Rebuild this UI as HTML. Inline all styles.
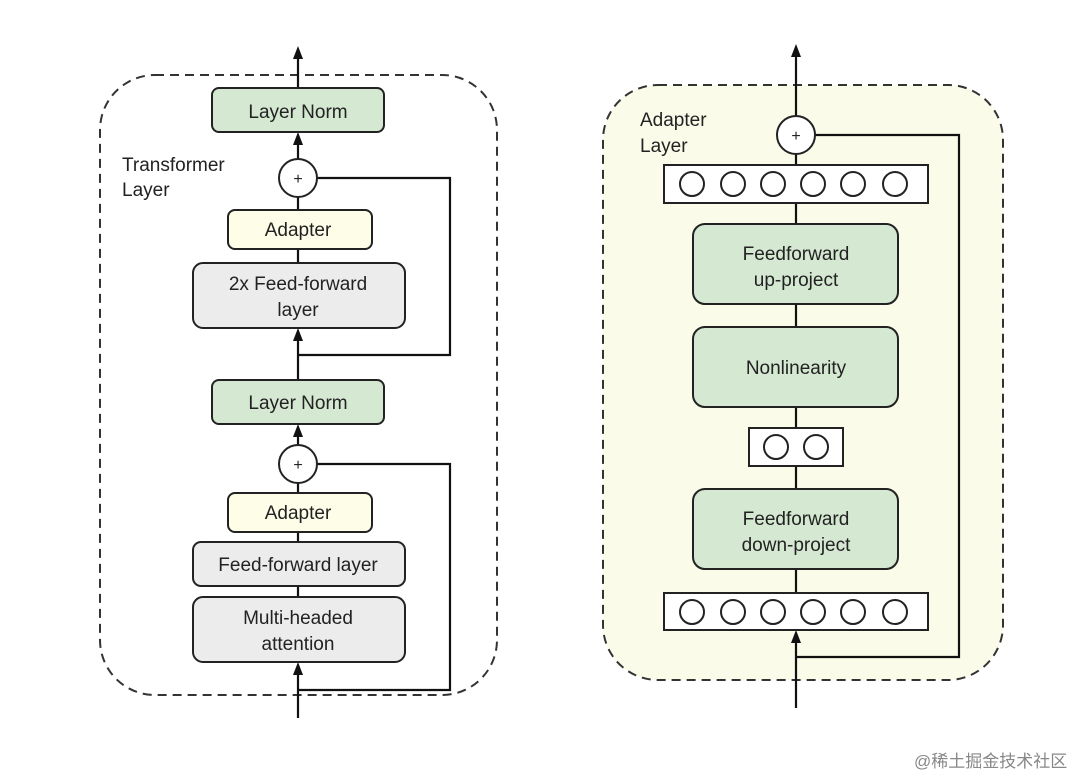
<!DOCTYPE html>
<html><head><meta charset="utf-8"><style>
html,body{margin:0;padding:0;background:#fff;}
svg{display:block;}
text{font-family:"Liberation Sans",sans-serif;fill:#222;}
</style></head><body>
<svg width="1080" height="776" viewBox="0 0 1080 776" xmlns="http://www.w3.org/2000/svg">
<!-- Left dashed -->
<rect x="100" y="75" width="397" height="620" rx="55" fill="none" stroke="#333" stroke-width="2" stroke-dasharray="9,6"/>
<text x="122" y="171" font-size="19">Transformer</text>
<text x="122" y="196" font-size="19">Layer</text>
<g stroke="#111" stroke-width="2.2" fill="none">
<line x1="298" y1="88" x2="298" y2="56"/>
<line x1="298" y1="159" x2="298" y2="140"/>
<line x1="298" y1="197" x2="298" y2="210"/>
<line x1="298" y1="249" x2="298" y2="263"/>
<line x1="298" y1="380" x2="298" y2="336"/>
<polyline points="317,178 450,178 450,355 298,355"/>
<line x1="298" y1="445" x2="298" y2="432"/>
<line x1="298" y1="483" x2="298" y2="493"/>
<line x1="298" y1="532" x2="298" y2="542"/>
<line x1="298" y1="586" x2="298" y2="597"/>
<line x1="298" y1="718" x2="298" y2="670"/>
<polyline points="317,464 450,464 450,690 298,690"/>
</g>
<g fill="#111">
<polygon points="298,46 293,59 303,59"/>
<polygon points="298,132 293,145 303,145"/>
<polygon points="298,328 293,341 303,341"/>
<polygon points="298,424 293,437 303,437"/>
<polygon points="298,662 293,675 303,675"/>
</g>
<g stroke="#222" stroke-width="2">
<rect x="212" y="88" width="172" height="44" rx="7" fill="#d5e8d2"/>
<circle cx="298" cy="178" r="19" fill="#fff"/>
<rect x="228" y="210" width="144" height="39" rx="7" fill="#fdfde8"/>
<rect x="193" y="263" width="212" height="65" rx="10" fill="#ececec"/>
<rect x="212" y="380" width="172" height="44" rx="7" fill="#d5e8d2"/>
<circle cx="298" cy="464" r="19" fill="#fff"/>
<rect x="228" y="493" width="144" height="39" rx="7" fill="#fdfde8"/>
<rect x="193" y="542" width="212" height="44" rx="8" fill="#ececec"/>
<rect x="193" y="597" width="212" height="65" rx="10" fill="#ececec"/>
</g>
<g font-size="19" text-anchor="middle">
<text x="298" y="118">Layer Norm</text>
<text x="298" y="184" font-size="16">+</text>
<text x="298" y="236">Adapter</text>
<text x="298" y="290">2x Feed-forward</text>
<text x="298" y="316">layer</text>
<text x="298" y="409">Layer Norm</text>
<text x="298" y="470" font-size="16">+</text>
<text x="298" y="519">Adapter</text>
<text x="298" y="571">Feed-forward layer</text>
<text x="298" y="624">Multi-headed</text>
<text x="298" y="650">attention</text>
</g>
<!-- Right -->
<rect x="603" y="85" width="400" height="595" rx="55" fill="#fbfbea" stroke="#333" stroke-width="2" stroke-dasharray="9,6"/>
<text x="640" y="126" font-size="19">Adapter</text>
<text x="640" y="152" font-size="19">Layer</text>
<g stroke="#111" stroke-width="2.2" fill="none">
<line x1="796" y1="116" x2="796" y2="54"/>
<line x1="796" y1="154" x2="796" y2="165"/>
<line x1="796" y1="203" x2="796" y2="224"/>
<line x1="796" y1="304" x2="796" y2="327"/>
<line x1="796" y1="407" x2="796" y2="428"/>
<line x1="796" y1="466" x2="796" y2="489"/>
<line x1="796" y1="569" x2="796" y2="593"/>
<line x1="796" y1="708" x2="796" y2="638"/>
<polyline points="815,135 959,135 959,657 796,657"/>
</g>
<g fill="#111">
<polygon points="796,44 791,57 801,57"/>
<polygon points="796,630 791,643 801,643"/>
</g>
<g stroke="#222" stroke-width="2">
<circle cx="796" cy="135" r="19" fill="#fff"/>
<rect x="664" y="165" width="264" height="38" fill="#fff"/>
<rect x="693" y="224" width="205" height="80" rx="12" fill="#d5e8d2"/>
<rect x="693" y="327" width="205" height="80" rx="12" fill="#d5e8d2"/>
<rect x="749" y="428" width="94" height="38" fill="#fff"/>
<rect x="693" y="489" width="205" height="80" rx="12" fill="#d5e8d2"/>
<rect x="664" y="593" width="264" height="37" fill="#fff"/>
<g fill="none">
<circle cx="692" cy="184" r="12"/><circle cx="733" cy="184" r="12"/><circle cx="773" cy="184" r="12"/><circle cx="813" cy="184" r="12"/><circle cx="853" cy="184" r="12"/><circle cx="895" cy="184" r="12"/>
<circle cx="776" cy="447" r="12"/><circle cx="816" cy="447" r="12"/>
<circle cx="692" cy="612" r="12"/><circle cx="733" cy="612" r="12"/><circle cx="773" cy="612" r="12"/><circle cx="813" cy="612" r="12"/><circle cx="853" cy="612" r="12"/><circle cx="895" cy="612" r="12"/>
</g>
</g>
<g font-size="19" text-anchor="middle">
<text x="796" y="141" font-size="16">+</text>
<text x="796" y="260">Feedforward</text>
<text x="796" y="286">up-project</text>
<text x="796" y="374">Nonlinearity</text>
<text x="796" y="525">Feedforward</text>
<text x="796" y="551">down-project</text>
</g>
<text x="914" y="767" font-size="17" style="font-family:'Liberation Sans','Noto Sans CJK SC',sans-serif;fill:#888">@稀土掘金技术社区</text>
</svg>
</body></html>
